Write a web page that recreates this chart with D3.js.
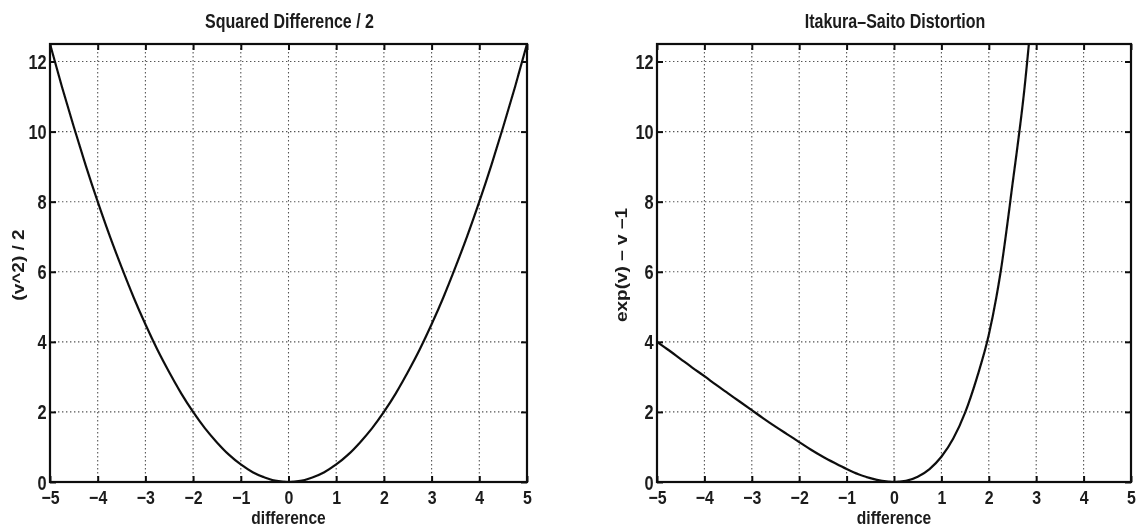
<!DOCTYPE html>
<html>
<head>
<meta charset="utf-8">
<script src="https://cdn.jsdelivr.net/npm/d3@7"></script>
<style>
  html, body { margin: 0; padding: 0; background: #fff; }
  svg { display: block; }
  text { font-family: "Liberation Sans", Arial, Helvetica, sans-serif; fill: #1a1a1a; font-weight: bold; }
</style>
</head>
<body>
<svg id="chart" width="1138" height="527"></svg>
<script>
// Shared axis ticks
const xTicks = [-5, -4, -3, -2, -1, 0, 1, 2, 3, 4, 5];
const yTicks = [0, 2, 4, 6, 8, 10, 12];
const xDomain = [-5, 5];
const yDomain = [0, 12.5];

// Left panel: squared difference / 2
const sqV = [-5, -4.75, -4.5, -4.25, -4, -3.75, -3.5, -3.25, -3, -2.75, -2.5, -2.25, -2, -1.75, -1.5, -1.25, -1, -0.75, -0.5, -0.25,
             0, 0.25, 0.5, 0.75, 1, 1.25, 1.5, 1.75, 2, 2.25, 2.5, 2.75, 3, 3.25, 3.5, 3.75, 4, 4.25, 4.5, 4.75, 5];
const sqD = [12.5, 11.28, 10.13, 9.03, 8.0, 7.03, 6.13, 5.28, 4.5, 3.78, 3.13, 2.53, 2.0, 1.53, 1.13, 0.78, 0.5, 0.28, 0.13, 0.03,
             0, 0.03, 0.13, 0.28, 0.5, 0.78, 1.13, 1.53, 2.0, 2.53, 3.13, 3.78, 4.5, 5.28, 6.13, 7.03, 8.0, 9.03, 10.13, 11.28, 12.5];

// Right panel: Itakura-Saito distortion
const isV = [-5, -4.75, -4.5, -4.25, -4, -3.75, -3.5, -3.25, -3, -2.75, -2.5, -2.25, -2, -1.75, -1.5, -1.25, -1, -0.75, -0.5, -0.25,
             0, 0.25, 0.5, 0.75, 1, 1.25, 1.5, 1.75, 2, 2.25, 2.5, 2.75, 3];
const isD = [4.0, 3.76, 3.51, 3.26, 3.02, 2.77, 2.53, 2.29, 2.05, 1.81, 1.58, 1.36, 1.14, 0.92, 0.72, 0.54, 0.37, 0.22, 0.11, 0.03,
             0, 0.03, 0.15, 0.37, 0.72, 1.24, 1.98, 2.98, 4.2, 6.0, 8.5, 11.2, 14.8];

const panels = [
  { id: "sq", title: "Squared Difference / 2", ylabel: "(v^2) / 2", xlabel: "difference",
    v: sqV, d: sqD, left: 50, right: 527, ylabelX: 24 },
  { id: "is", title: "Itakura\u2013Saito Distortion", ylabel: "exp(v) \u2013 v \u20131", xlabel: "difference",
    v: isV, d: isD, left: 657, right: 1131, ylabelX: 627 }
];

const plotTop = 44, plotBottom = 482;
const sx = 0.84; // horizontal compression of the type face
const svg = d3.select("#chart");
const defs = svg.append("defs");
defs.append("filter").attr("id", "soft")
  .append("feGaussianBlur").attr("stdDeviation", 0.4);

const root = svg.append("g").attr("filter", "url(#soft)");

panels.forEach(p => {
  const x = d3.scaleLinear().domain(xDomain).range([p.left, p.right]);
  const y = d3.scaleLinear().domain(yDomain).range([plotBottom, plotTop]);
  const g = root.append("g");

  // dotted grid
  g.append("g").selectAll("line").data(xTicks.slice(1, -1)).join("line")
    .attr("x1", d => x(d)).attr("x2", d => x(d)).attr("y1", plotTop).attr("y2", plotBottom)
    .attr("stroke", "#555").attr("stroke-width", 1.1).attr("stroke-dasharray", "1.4,2.6");
  g.append("g").selectAll("line").data(yTicks.slice(1)).join("line")
    .attr("x1", p.left).attr("x2", p.right).attr("y1", d => y(d)).attr("y2", d => y(d))
    .attr("stroke", "#555").attr("stroke-width", 1.1).attr("stroke-dasharray", "1.4,2.6");

  // curve, clipped to the plot box
  const clipId = "clip-" + p.id;
  defs.append("clipPath").attr("id", clipId).append("rect")
    .attr("x", p.left).attr("y", plotTop).attr("width", p.right - p.left).attr("height", plotBottom - plotTop);
  const pts = p.v.map((v, i) => [v, p.d[i]]);
  g.append("path").datum(pts)
    .attr("clip-path", `url(#${clipId})`)
    .attr("fill", "none").attr("stroke", "#111").attr("stroke-width", 2.2)
    .attr("d", d3.line().x(d => x(d[0])).y(d => y(d[1])).curve(d3.curveMonotoneX));

  // axes with inward ticks on all four sides
  const axB = g.append("g").attr("transform", `translate(0,${plotBottom})`)
    .call(d3.axisBottom(x).tickValues(xTicks).tickSizeInner(-6).tickSizeOuter(0).tickPadding(0));
  axB.selectAll("text").attr("y", 22).attr("dy", null)
    .attr("transform", `scale(${sx},1)`).style("font-size", "19px");
  const axL = g.append("g").attr("transform", `translate(${p.left},0)`)
    .call(d3.axisLeft(y).tickValues(yTicks).tickSizeInner(-6).tickSizeOuter(0).tickPadding(0));
  axL.selectAll("text").attr("x", -4).attr("dy", "0.36em")
    .attr("transform", `scale(${sx},1)`).style("font-size", "19.5px");
  g.append("g").attr("transform", `translate(0,${plotTop})`)
    .call(d3.axisTop(x).tickValues(xTicks).tickSizeInner(-6).tickSizeOuter(0).tickFormat(""));
  g.append("g").attr("transform", `translate(${p.right},0)`)
    .call(d3.axisRight(y).tickValues(yTicks).tickSizeInner(-6).tickSizeOuter(0).tickFormat(""));
  g.selectAll(".domain").remove();
  g.selectAll(".tick line").attr("stroke", "#111").attr("stroke-width", 2);
  g.selectAll(".tick text").attr("fill", "#1a1a1a").style("font-family", "'Liberation Sans', Arial, sans-serif");

  // frame
  g.append("rect").attr("x", p.left).attr("y", plotTop)
    .attr("width", p.right - p.left).attr("height", plotBottom - plotTop)
    .attr("fill", "none").attr("stroke", "#111").attr("stroke-width", 2.2);

  const cx = (p.left + p.right) / 2;
  // title
  g.append("text").attr("transform", `translate(${cx + 1},28) scale(0.8,1)`)
    .attr("text-anchor", "middle").style("font-size", "20px").text(p.title);
  // x label
  g.append("text").attr("transform", `translate(${cx},524) scale(0.82,1)`)
    .attr("text-anchor", "middle").style("font-size", "19px").text(p.xlabel);
  // y label: glyph height compressed, length kept
  g.append("text").attr("transform", `translate(${p.ylabelX},${(plotTop + plotBottom) / 2 + 2}) rotate(-90) scale(1,0.85)`)
    .attr("text-anchor", "middle").style("font-size", "19px").text(p.ylabel);
});
</script>
</body>
</html>
